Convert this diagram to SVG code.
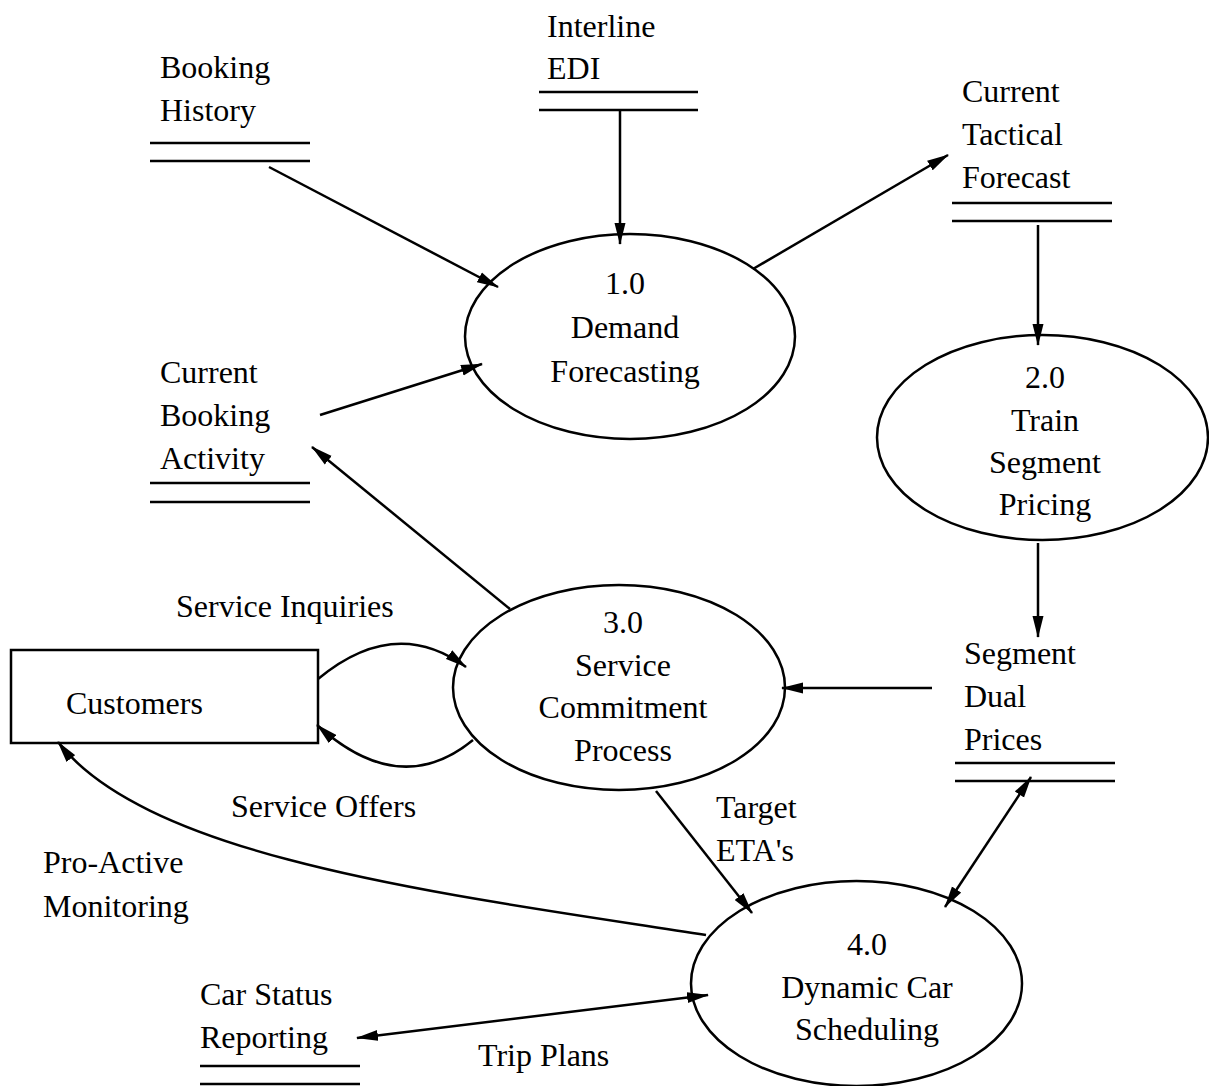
<svg xmlns="http://www.w3.org/2000/svg" width="1209" height="1086" viewBox="0 0 1209 1086">
  <style>
    text { font-family: "Liberation Serif", "Times New Roman", serif; font-size: 32px; fill: #000; }
    .c { text-anchor: middle; }
    .shape { fill: none; stroke: #000; stroke-width: 2.5; }
    .store line { stroke: #000; stroke-width: 2.5; }
    .flow { fill: none; stroke: #000; stroke-width: 2.5; marker-end: url(#arrow); }
    .both { marker-start: url(#arrow); }
  </style>
  <defs>
    <marker id="arrow" markerUnits="userSpaceOnUse" markerWidth="22" markerHeight="12" viewBox="0 0 22 12" refX="21" refY="6" orient="auto-start-reverse">
      <path d="M0,0.5 L22,6 L0,11.5 Z" fill="#000"/>
    </marker>
  </defs>
  <rect width="1209" height="1086" fill="#fff"/>

  <!-- data stores -->
  <g id="booking-history" class="store">
    <text x="160" y="78">Booking</text>
    <text x="160" y="121">History</text>
    <line x1="150" y1="143" x2="310" y2="143"/>
    <line x1="150" y1="161" x2="310" y2="161"/>
  </g>
  <g id="interline-edi" class="store">
    <text x="547" y="37">Interline</text>
    <text x="547" y="79">EDI</text>
    <line x1="539" y1="92" x2="698" y2="92"/>
    <line x1="539" y1="110" x2="698" y2="110"/>
  </g>
  <g id="current-tactical-forecast" class="store">
    <text x="962" y="102">Current</text>
    <text x="962" y="145">Tactical</text>
    <text x="962" y="188">Forecast</text>
    <line x1="952" y1="203" x2="1112" y2="203"/>
    <line x1="952" y1="221" x2="1112" y2="221"/>
  </g>
  <g id="current-booking-activity" class="store">
    <text x="160" y="383">Current</text>
    <text x="160" y="426">Booking</text>
    <text x="160" y="469">Activity</text>
    <line x1="150" y1="483" x2="310" y2="483"/>
    <line x1="150" y1="502" x2="310" y2="502"/>
  </g>
  <g id="segment-dual-prices" class="store">
    <text x="964" y="664">Segment</text>
    <text x="964" y="707">Dual</text>
    <text x="964" y="750">Prices</text>
    <line x1="955" y1="763" x2="1115" y2="763"/>
    <line x1="955" y1="781" x2="1115" y2="781"/>
  </g>
  <g id="car-status-reporting" class="store">
    <text x="200" y="1005">Car Status</text>
    <text x="200" y="1048">Reporting</text>
    <line x1="200" y1="1066" x2="360" y2="1066"/>
    <line x1="200" y1="1084" x2="360" y2="1084"/>
  </g>

  <!-- processes -->
  <g id="p1">
    <ellipse class="shape" cx="630" cy="336.5" rx="165" ry="102.5"/>
    <text class="c" x="625" y="294">1.0</text>
    <text class="c" x="625" y="338">Demand</text>
    <text class="c" x="625" y="382">Forecasting</text>
  </g>
  <g id="p2">
    <ellipse class="shape" cx="1042.5" cy="437.5" rx="165.5" ry="102.5"/>
    <text class="c" x="1045" y="388">2.0</text>
    <text class="c" x="1045" y="431">Train</text>
    <text class="c" x="1045" y="473">Segment</text>
    <text class="c" x="1045" y="515">Pricing</text>
  </g>
  <g id="p3">
    <ellipse class="shape" cx="619" cy="687.5" rx="166" ry="102.5"/>
    <text class="c" x="623" y="633">3.0</text>
    <text class="c" x="623" y="676">Service</text>
    <text class="c" x="623" y="718">Commitment</text>
    <text class="c" x="623" y="761">Process</text>
  </g>
  <g id="p4">
    <ellipse class="shape" cx="856.5" cy="983.5" rx="165.5" ry="102.5"/>
    <text class="c" x="867" y="955">4.0</text>
    <text class="c" x="867" y="998">Dynamic Car</text>
    <text class="c" x="867" y="1040">Scheduling</text>
  </g>

  <!-- external entity -->
  <g id="customers">
    <rect class="shape" x="11" y="650" width="307" height="93"/>
    <text x="66" y="714">Customers</text>
  </g>

  <!-- data flows -->
  <g id="connectors">
    <line class="flow" x1="269" y1="167" x2="498" y2="287"/>
    <line class="flow" x1="620" y1="110" x2="620" y2="244"/>
    <line class="flow" x1="753" y1="269" x2="948" y2="155"/>
    <line class="flow" x1="1038" y1="225" x2="1038" y2="345"/>
    <line class="flow" x1="320" y1="415" x2="482" y2="364"/>
    <line class="flow" x1="510" y1="609" x2="312" y2="447"/>
    <line class="flow" x1="1038" y1="543" x2="1038" y2="637"/>
    <line class="flow" x1="932" y1="688" x2="782" y2="688"/>
    <path class="flow" d="M318,679 Q395,615 466,667"/>
    <path class="flow" d="M473,740 Q400,800 317,725"/>
    <line class="flow" x1="656" y1="791" x2="752" y2="913"/>
    <line class="flow both" x1="1031" y1="777" x2="945" y2="907"/>
    <path class="flow" d="M706,935 C450,895 150,860 58,742"/>
    <line class="flow both" x1="357" y1="1038" x2="708" y2="995"/>
  </g>

  <!-- flow labels -->
  <g id="labels">
    <text x="176" y="617">Service Inquiries</text>
    <text x="231" y="817">Service Offers</text>
    <text x="716" y="818">Target</text>
    <text x="716" y="861">ETA's</text>
    <text x="43" y="873">Pro-Active</text>
    <text x="43" y="917">Monitoring</text>
    <text x="478" y="1066">Trip Plans</text>
  </g>
</svg>
